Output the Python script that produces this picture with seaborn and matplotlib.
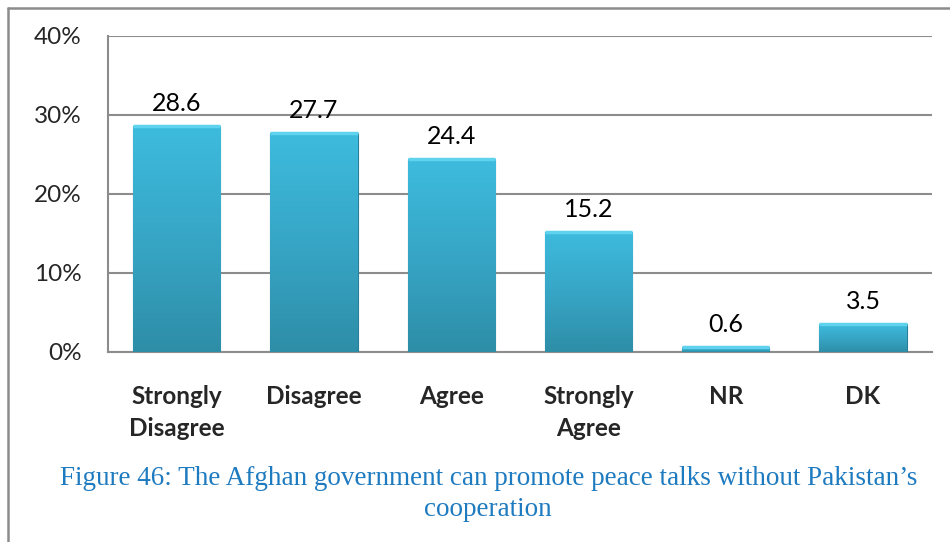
import numpy as np
import pandas as pd
import matplotlib
matplotlib.use("Agg")
import matplotlib.pyplot as plt
import seaborn as sns
from matplotlib.colors import LinearSegmentedColormap

# data
categories = ["Strongly\nDisagree", "Disagree", "Agree", "Strongly\nAgree", "NR", "DK"]
values = [28.6, 27.7, 24.4, 15.2, 0.6, 3.5]
value_labels = ["28.6", "27.7", "24.4", "15.2", "0.6", "3.5"]
y_ticks = [0, 10, 20, 30, 40]
y_tick_labels = ["0%", "10%", "20%", "30%", "40%"]
caption = "Figure 46: The Afghan government can promote peace talks without Pakistan\u2019s\ncooperation"

df = pd.DataFrame({"category": categories, "value": values})

sns.set_theme(style="white")
plt.rcParams["font.family"] = ["Lato", "DejaVu Sans"]

fig = plt.figure(figsize=(9.5, 5.42), dpi=100)
ax = fig.add_axes([0.1137, 0.3506, 0.867, 0.583])

sns.barplot(data=df, x="category", y="value", color="#35A9CA", width=0.635,
            edgecolor="#2A7F98", linewidth=0.8, saturation=1, ax=ax, zorder=3)

# vertical gradient on each bar (lighter top, darker bottom)
grad = LinearSegmentedColormap.from_list("bar", ["#2E8EA8", "#37A6C6", "#3DBBDD"])
for patch in ax.patches:
    x0, y0 = patch.get_x(), patch.get_y()
    w, h = patch.get_width(), patch.get_height()
    img = ax.imshow(np.linspace(0, 1, 100).reshape(-1, 1), cmap=grad, origin="lower",
                    extent=[x0, x0 + w, y0, y0 + h], aspect="auto", zorder=3.5)
    img.set_clip_path(patch)
    # small highlight strip on top
    ax.plot([x0, x0 + w], [y0 + h, y0 + h], color="#5FD3EE", lw=2.5, zorder=4,
            solid_capstyle="butt")

for i, (v, lab) in enumerate(zip(values, value_labels)):
    ax.annotate(lab, (i, v), xytext=(0, 8), textcoords="offset points",
                ha="center", va="bottom", fontsize=18, color="black")

ax.set_xlim(-0.5, len(categories) - 0.5)
ax.set_ylim(0, 40)
ax.set_yticks(y_ticks)
ax.set_yticklabels(y_tick_labels, fontsize=17.5)
ax.tick_params(axis="y", pad=19, length=0)
ax.tick_params(axis="x", pad=24, length=0)
for t in ax.get_xticklabels():
    t.set_fontweight("bold")
    t.set_fontsize(17.5)
    t.set_linespacing(1.45)
    t.set_verticalalignment("top")
ax.set_xlabel("")
ax.set_ylabel("")

ax.grid(axis="y", color="#8C8C8C", lw=1.5, zorder=0)
ax.set_axisbelow(True)
for side in ["top", "right"]:
    ax.spines[side].set_visible(False)
for side in ["left", "bottom"]:
    ax.spines[side].set_color("#8C8C8C")
    ax.spines[side].set_linewidth(1.5)

# caption below the chart
fig.text(0.514, 0.089, caption, ha="center", va="center", fontsize=19.5,
         family=["Liberation Serif", "DejaVu Serif"], color="#1F7BC0", linespacing=1.3)

# outer frame (left and top edges)
fig.add_artist(plt.Line2D([8 / 950, 8 / 950], [0, 1 - 8 / 542], color="#8C8C8C", lw=1.8))
fig.add_artist(plt.Line2D([8 / 950, 1], [1 - 8 / 542, 1 - 8 / 542], color="#8C8C8C", lw=1.8))

fig.savefig("out.png", dpi=100)
